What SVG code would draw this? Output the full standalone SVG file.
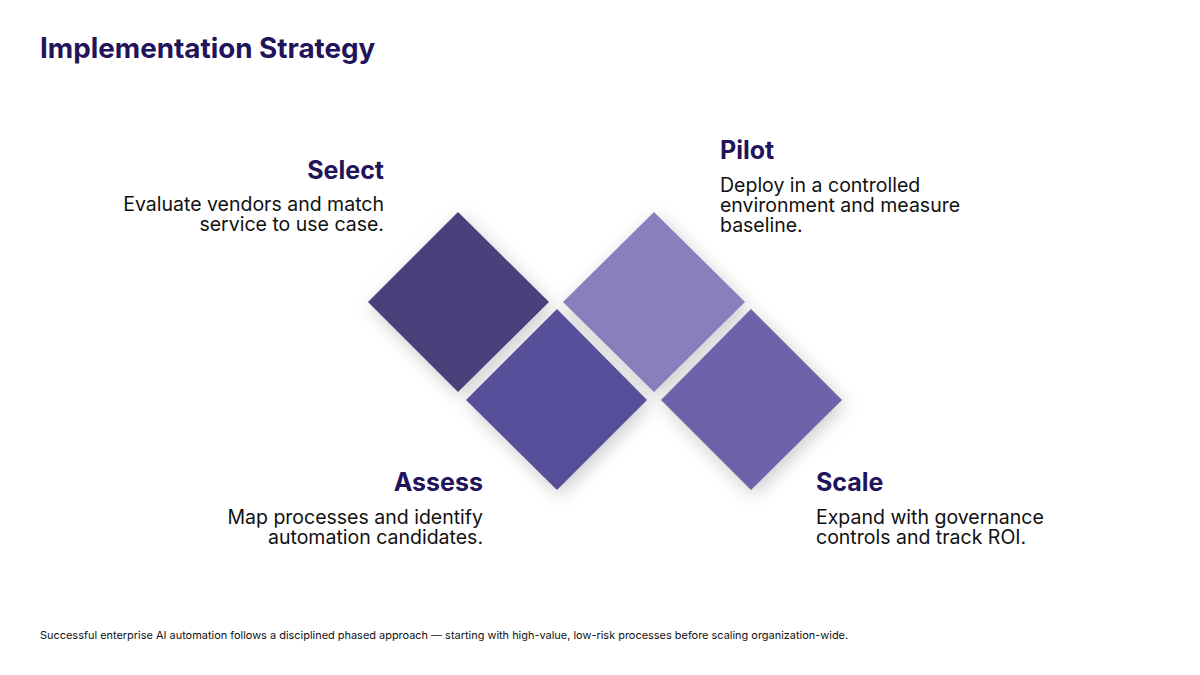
<svg xmlns="http://www.w3.org/2000/svg" width="1200" height="675" viewBox="0 0 1200 675">
<defs>
<filter id="sh" x="-40%" y="-40%" width="180%" height="180%">
<feDropShadow dx="3" dy="5" stdDeviation="9" flood-color="#000" flood-opacity="0.2"/>
</filter>
<style>
.title{font-family:Inter,"Noto Sans",sans-serif;font-weight:700;font-size:27.8px;fill:#22145a}
.head{font-family:Inter,"Noto Sans",sans-serif;font-weight:700;font-size:25px;fill:#22145a}
.body{font-family:Inter,"Noto Sans",sans-serif;font-weight:400;font-size:19.5px;fill:#111}
.foot{font-family:Inter,"Noto Sans",sans-serif;font-weight:400;font-size:10.95px;fill:#111}
.r{text-anchor:end}
</style>
</defs>
<rect width="1200" height="675" fill="#fff"/>
<text class="title" x="40" y="58">Implementation Strategy</text>
<g id="select">
<polygon points="458,212 549,302 458,392 368,302" fill="#483f7c" filter="url(#sh)"/>
<text class="head r" x="384" y="179">Select</text>
<text class="body r" x="384" y="211">Evaluate vendors and match</text>
<text class="body r" x="384" y="231">service to use case.</text>
</g>
<g id="pilot">
<polygon points="654,212 745,302 654,392 563,302" fill="#8780bc" filter="url(#sh)"/>
<text class="head" x="720" y="159">Pilot</text>
<text class="body" x="720" y="192">Deploy in a controlled</text>
<text class="body" x="720" y="212">environment and measure</text>
<text class="body" x="720" y="232">baseline.</text>
</g>
<g id="assess">
<polygon points="557,309 647,400 557,490 466,400" fill="#58509a" filter="url(#sh)"/>
<text class="head r" x="483" y="491">Assess</text>
<text class="body r" x="483" y="524">Map processes and identify</text>
<text class="body r" x="483" y="544">automation candidates.</text>
</g>
<g id="scale">
<polygon points="751,309 842,400 751,490 661,400" fill="#6d64ab" filter="url(#sh)"/>
<text class="head" x="816" y="491">Scale</text>
<text class="body" x="816" y="524">Expand with governance</text>
<text class="body" x="816" y="544">controls and track ROI.</text>
</g>
<g id="connectors"></g>
<text class="foot" x="40" y="639">Successful enterprise AI automation follows a disciplined phased approach — starting with high-value, low-risk processes before scaling organization-wide.</text>
</svg>
